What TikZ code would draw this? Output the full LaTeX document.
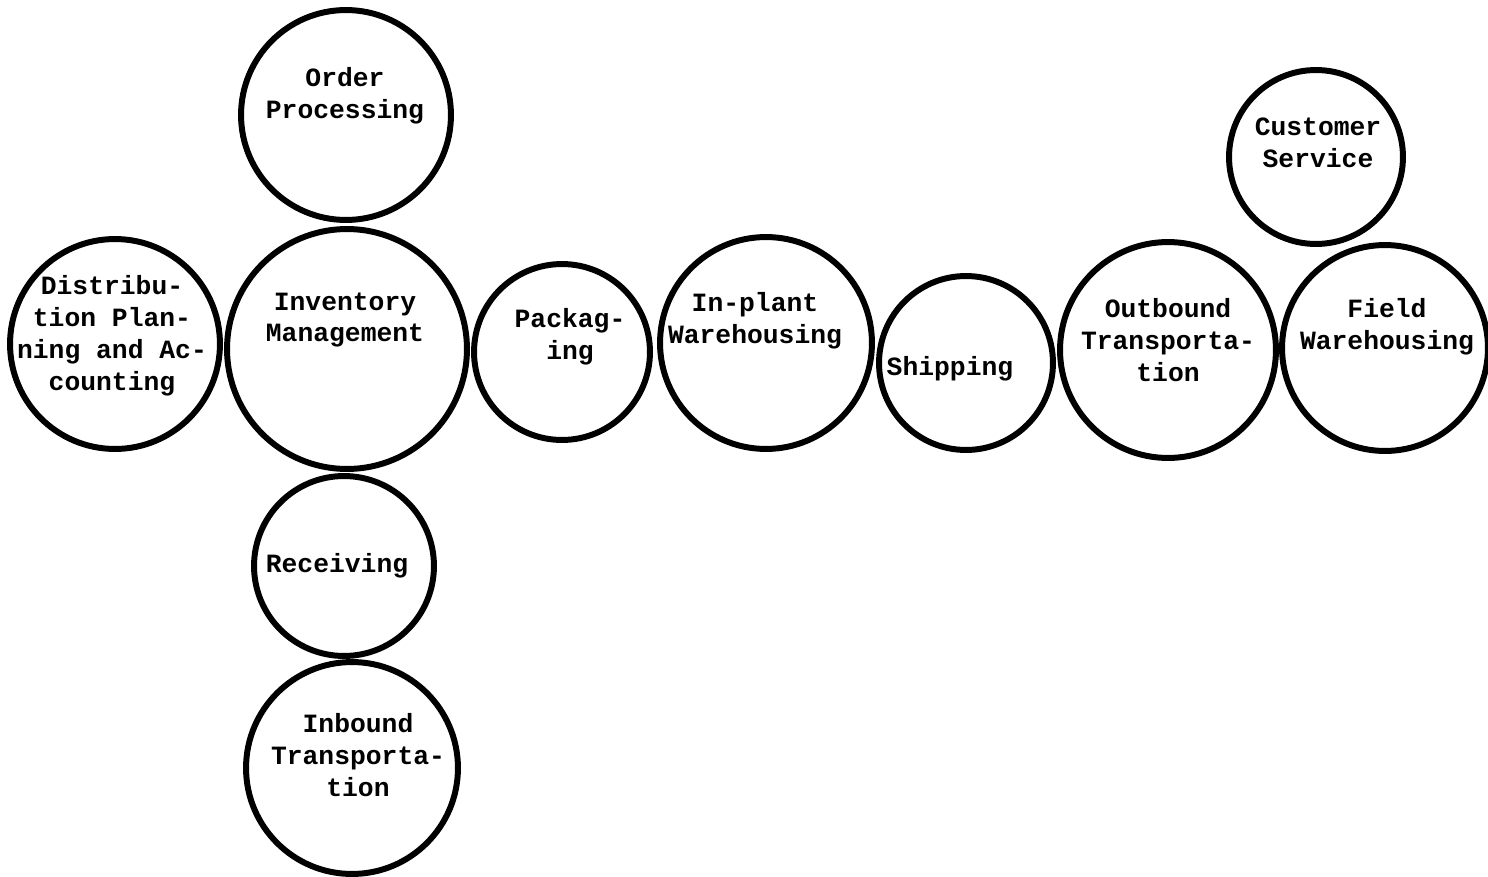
\documentclass[tikz,border=0pt]{standalone}
\usepackage{fontspec}
\setmonofont{Liberation Mono}
\usepackage{tikz}
\tikzset{
  every picture/.style={line join=round, line cap=round},
  % one disc per activity; #1 is the radius in pixels of the scan
  disc/.style={circle, draw, line width=3.4pt, inner sep=0pt, minimum size=#1*0.04cm},
  lbl/.style={font=\ttfamily\bfseries\fontsize{15}{18.2}\selectfont, align=center, inner sep=0pt},
}
\begin{document}
\begin{tikzpicture}[x=0.02cm,y=-0.02cm]
\useasboundingbox (0,0) rectangle (1488,876);
% the discs
\node[disc=105] (ordproc) at (346,115) {};
\node[disc=120] (invmgmt) at (347,349) {};
\node[disc=105] (distplan) at (115,344) {};
\node[disc=88] (packag) at (562,352) {};
\node[disc=106] (inplant) at (766,343) {};
\node[disc=87] (shipping) at (966,363) {};
\node[disc=108] (outbound) at (1168,350) {};
\node[disc=103] (fieldwh) at (1385,348) {};
\node[disc=87] (custserv) at (1316,157) {};
\node[disc=90] (receiving) at (344,566) {};
\node[disc=106] (inbound) at (352,768) {};
% the labels
\node[lbl] (ordprocT) at (345,96) {Order\\Processing};
\node[lbl] (invmgmtT) at (345,320) {Inventory\\Management};
\node[lbl] (distplanT) at (112,336) {Distribu-\\tion Plan-\\ning and Ac-\\counting};
\node[lbl] (packagT) at (570,337) {Packag-\\ing};
\node[lbl] (inplantT) at (755,321) {In-plant\\Warehousing};
\node[lbl] (shippingT) at (950,369) {Shipping};
\node[lbl] (outboundT) at (1168,340) {Outbound\\Transporta-\\tion};
\node[lbl] (fieldwhT) at (1387,327) {Field\\Warehousing};
\node[lbl] (custservT) at (1318,143) {Customer\\Service};
\node[lbl] (receivingT) at (337,566) {Receiving};
\node[lbl] (inboundT) at (358,755) {Inbound\\Transporta-\\tion};
\end{tikzpicture}
\end{document}
